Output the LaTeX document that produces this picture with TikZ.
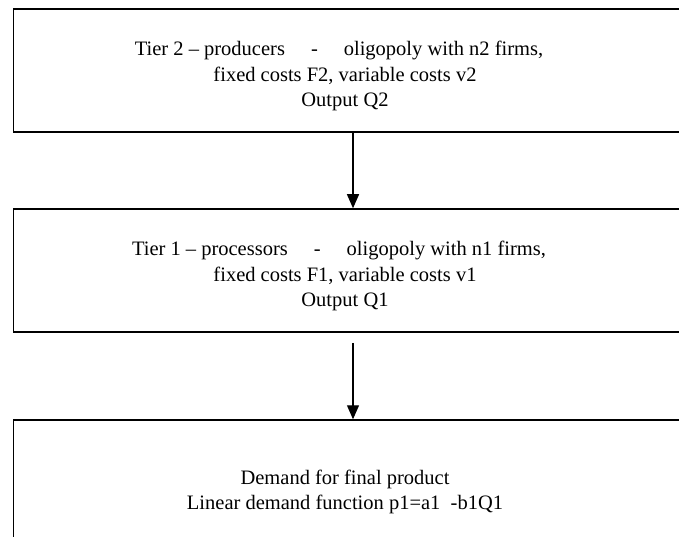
\documentclass[tikz,border=0pt]{standalone}
\usepackage{fontspec}
\setmainfont{Liberation Serif}
\usetikzlibrary{arrows.meta}
\tikzset{
  tierbox/.style={draw, line width=1.5pt, minimum width=679pt, inner sep=0pt},
  tiertext/.style={align=center, inner sep=0pt, font=\fontsize{20.5}{25.5}\selectfont},
  flow/.style={line width=1.2pt, -{Triangle[width=12pt,length=14pt]}}
}
\newcommand{\gapdash}{\hspace{26pt}-\hspace{26pt}}

\begin{document}
\begin{tikzpicture}[x=1pt,y=-1pt]
        \useasboundingbox (0,0) rectangle (679,537);

        % boxes
        \node[tierbox, minimum height=123pt] (tier2) at (353,70.5) {};
        \node[tierbox, minimum height=123pt] (tier1) at (353,270.5) {};
        \node[tierbox, minimum height=140pt] (demand) at (353,490) {};

        % texts
        \node[tiertext] (tier2txt) at (345,76) {Tier 2 -- producers\gapdash oligopoly with n2 firms,\hspace*{12pt}\\ fixed costs F2, variable costs v2\\ Output Q2};
        \node[tiertext] (tier1txt) at (345,276) {Tier 1 -- processors\gapdash oligopoly with n1 firms,\hspace*{12pt}\\ fixed costs F1, variable costs v1\\ Output Q1};
        \node[tiertext] (demandtxt) at (345,492) {Demand for final product\\ Linear demand function p1=a1\ \ -b1Q1};

        % arrows
        \draw[flow] (tier2) -- (tier1);
        \draw[flow, shorten <=10pt] (tier1) -- (demand);
\end{tikzpicture}
\end{document}
